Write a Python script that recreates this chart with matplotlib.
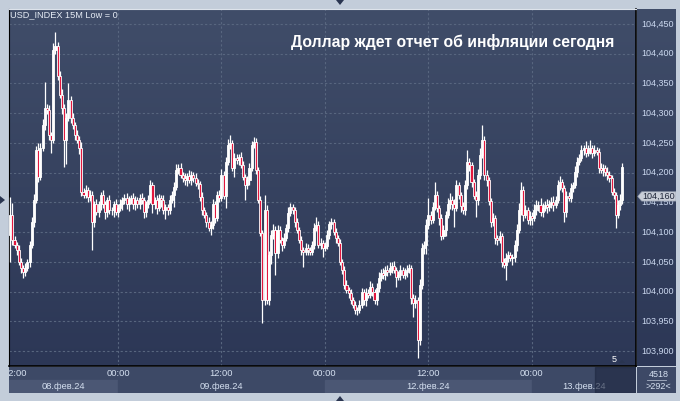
import numpy as np
import matplotlib.pyplot as plt
from matplotlib.colors import LinearSegmentedColormap
from matplotlib.patches import Polygon, Rectangle

plt.rcParams['font.family'] = ['Liberation Sans', 'DejaVu Sans']

# USD_INDEX 15M, closes in points above 104.000, first bar 08.02 11:30
close_pts = [129, 87, 79, 70, 50, 40, 33, 40, 50, 79,
             117, 154, 238, 193, 241, 280, 309, 305, 263, 255,
             406, 413, 363, 331, 309, 255, 292, 322, 292, 280,
             263, 255, 241, 168, 163, 171, 159, 163, 117, 147,
             134, 147, 163, 147, 134, 154, 137, 137, 147, 134,
             141, 147, 154, 158, 147, 154, 158, 147, 154, 147,
             158, 154, 134, 147, 154, 179, 147, 154, 141, 158,
             154, 137, 142, 137, 154, 163, 176, 205, 208, 196,
             191, 188, 194, 188, 196, 191, 183, 181, 159, 137,
             129, 117, 107, 112, 147, 124, 163, 158, 196, 161,
             218, 247, 249, 208, 225, 221, 226, 213, 193, 179,
             188, 208, 247, 252, 205, 154, 99, -14, 137, -14,
             62, 95, 104, 65, 104, 87, 79, 90, 107, 132,
             142, 137, 117, 104, 87, 70, 67, 74, 70, 67,
             79, 107, 112, 79, 82, 74, 77, 95, 114, 117,
             101, 90, 82, 50, 37, 11, 3, -2, -14, -22,
             -31, -31, -22, 0, -14, -2, -5, 8, 0, -14,
             6, 23, 32, 28, 37, 33, 40, 43, 37, 25,
             28, 37, 28, 33, 37, 40, -10, -19, -14, -81,
             11, 74, 79, 112, 129, 121, 142, 163, 141, 124,
             94, 104, 129, 147, 154, 147, 141, 179, 163, 144,
             137, 179, 218, 213, 184, 161, 154, 196, 230, 255,
             196, 188, 152, 117, 124, 90, 87, 94, 50, 45,
             57, 62, 57, 58, 79, 104, 137, 171, 129, 137,
             121, 127, 124, 137, 146, 146, 133, 141, 146, 142,
             148, 151, 146, 154, 179, 184, 174, 134, 161, 158,
             174, 179, 201, 218, 225, 238, 241, 233, 238, 241,
             233, 238, 235, 208, 205, 208, 201, 196, 191, 168,
             163, 129, 146, 154, 210]
first_open_pts = 96

upper_wick = [30, 20, 6, 5, 8, 6, 4, 8, 5, 6,
              8, 10, 6, 12, 8, 10, 43, 6, 8, 5,
              12, 23, 6, 8, 10, 6, 8, 29, 6, 8,
              5, 8, 6, 10, 6, 8, 5, 8, 6, 5,
              8, 6, 5, 8, 6, 5, 8, 6, 5, 8,
              6, 8, 5, 6, 8, 6, 5, 8, 6, 5,
              6, 8, 5, 6, 8, 9, 6, 5, 8, 6,
              5, 8, 6, 5, 8, 6, 8, 10, 6, 8,
              5, 8, 6, 10, 6, 5, 8, 6, 5, 8,
              6, 5, 8, 6, 8, 5, 6, 8, 10, 6,
              8, 10, 15, 6, 8, 6, 5, 8, 6, 5,
              6, 8, 6, 8, 6, 5, 6, 5, 26, 8,
              6, 8, 10, 6, 8, 6, 5, 8, 6, 10,
              7, 6, 5, 6, 5, 6, 5, 8, 6, 5,
              6, 8, 14, 6, 8, 5, 6, 8, 4, 6,
              5, 6, 5, 6, 5, 6, 8, 5, 6, 5,
              6, 5, 8, 6, 5, 8, 6, 10, 6, 5,
              8, 10, 6, 8, 6, 8, 10, 6, 8, 5,
              6, 8, 5, 6, 8, 6, 5, 6, 8, 5,
              10, 8, 6, 10, 29, 6, 8, 21, 6, 5,
              6, 8, 6, 10, 12, 6, 8, 9, 6, 5,
              6, 8, 20, 6, 5, 6, 8, 10, 12, 25,
              6, 8, 5, 6, 8, 5, 6, 8, 5, 6,
              8, 6, 5, 6, 8, 10, 12, 13, 6, 8,
              6, 8, 6, 10, 8, 6, 12, 8, 6, 10,
              6, 8, 10, 6, 8, 10, 6, 5, 8, 6,
              8, 6, 10, 8, 6, 8, 6, 12, 8, 14,
              6, 8, 5, 6, 8, 6, 5, 8, 6, 5,
              6, 5, 8, 10, 7]

lower_wick = [46, 8, 6, 8, 6, 8, 10, 6, 5, 8,
              6, 8, 5, 8, 6, 5, 8, 6, 8, 22,
              5, 6, 8, 6, 10, 45, 40, 6, 8, 6,
              8, 6, 10, 8, 6, 5, 8, 6, 47, 8,
              6, 8, 10, 6, 12, 8, 6, 8, 12, 6,
              8, 6, 10, 6, 8, 12, 6, 8, 10, 6,
              8, 6, 10, 8, 6, 5, 15, 8, 10, 6,
              12, 6, 15, 8, 6, 5, 20, 6, 8, 5,
              6, 8, 10, 6, 8, 6, 5, 8, 6, 8,
              6, 8, 5, 12, 6, 8, 6, 8, 5, 6,
              20, 6, 8, 5, 15, 6, 8, 6, 5, 25,
              6, 8, 5, 6, 8, 5, 6, 39, 8, 6,
              8, 15, 6, 37, 8, 6, 10, 6, 5, 6,
              5, 6, 8, 5, 6, 8, 26, 6, 8, 5,
              6, 8, 5, 6, 8, 16, 6, 5, 6, 8,
              6, 8, 5, 6, 8, 6, 5, 8, 6, 5,
              6, 8, 5, 6, 8, 10, 6, 5, 8, 6,
              8, 6, 5, 6, 8, 6, 5, 8, 6, 17,
              6, 8, 5, 6, 8, 6, 10, 23, 8, 30,
              8, 6, 10, 15, 6, 8, 6, 5, 8, 12,
              8, 6, 10, 6, 8, 10, 32, 6, 8, 10,
              6, 8, 6, 10, 8, 6, 28, 8, 6, 5,
              8, 10, 6, 8, 6, 10, 8, 6, 8, 6,
              25, 8, 6, 12, 8, 10, 6, 8, 10, 6,
              8, 9, 12, 6, 8, 10, 6, 8, 6, 10,
              6, 8, 10, 6, 5, 8, 6, 17, 8, 6,
              8, 6, 5, 8, 6, 5, 8, 6, 5, 6,
              8, 5, 6, 8, 6, 10, 6, 8, 6, 5,
              8, 22, 6, 8, 6]

price_ticks = [103.90, 103.95, 104.00, 104.05, 104.10, 104.15,
               104.20, 104.25, 104.30, 104.35, 104.40, 104.45]
time_ticks = [2, 50, 98, 146, 194, 242]
time_labels = ['12:00', '00:00', '12:00', '00:00', '12:00', '00:00']
day_edges = [-0.56, 50, 146, 242, 290.3]
day_labels = ['08.фев.24', '09.фев.24', '12.фев.24', '13.фев.24']
last_price = 104.160
title = 'Доллар ждет отчет об инфляции сегодня'

close = 104 + np.array(close_pts) / 1000
opn = np.concatenate([[104 + first_open_pts / 1000], close[:-1]])
high = np.maximum(opn, close) + np.array(upper_wick) / 1000
low = np.minimum(opn, close) - np.array(lower_wick) / 1000
idx = np.arange(len(close))

W, H = 680, 401
xlim = (day_edges[0], day_edges[-1])
ylim = (103.875, 104.475)
bg = LinearSegmentedColormap.from_list('bg', ['#404d69', '#2c3756'])
grad = np.linspace(0, 1, 256).reshape(-1, 1)

fig = plt.figure(figsize=(6.8, 4.01), dpi=100, facecolor='#c3cdda')

ax = fig.add_axes([9 / W, 35 / H, 627 / W, 357 / H])
ax.imshow(grad, cmap=bg, extent=[0, 1, 0, 1], transform=ax.transAxes,
          aspect='auto', zorder=0)
for v in price_ticks:
    ax.axhline(v, color='#58667f', lw=0.8, ls=(0, (2, 2)), zorder=1)
for t in time_ticks[1:]:
    ax.axvline(t, color='#58667f', lw=0.8, ls=(0, (2, 2)), zorder=1)

rising = close >= opn
ax.vlines(idx, low, high, color='white', lw=0.9, zorder=3)
ax.bar(idx, close - opn, bottom=opn, width=0.95,
       color=np.where(rising, 'white', '#e3173e'),
       edgecolor='white', linewidth=0.6, zorder=4)

ax.set_xlim(xlim)
ax.set_ylim(ylim)
ax.set_xticks([])
ax.set_yticks([])
ax.spines['left'].set_color('black')
ax.spines['bottom'].set_color('black')
ax.spines['bottom'].set_linewidth(1.2)
ax.spines['right'].set_color('black')
ax.spines['right'].set_linewidth(1.2)
ax.spines['top'].set_color('#dde3eb')

# price scale
ax_r = fig.add_axes([637 / W, 35 / H, 39 / W, 357 / H])
ax_r.imshow(grad, cmap=bg, extent=[0, 1, 0, 1], transform=ax_r.transAxes,
            aspect='auto', zorder=0)
ax_r.set_xlim(0, 1)
ax_r.set_ylim(ylim)
ax_r.axis('off')
tr = ax_r.get_yaxis_transform()
for v in price_ticks:
    ax_r.text(0.1, v, f'{v:.3f}'.replace('.', ','), transform=tr,
              fontsize=6.5, color='#cbd8ef', va='center')
tag = Polygon([(0.02, last_price), (0.12, last_price + 0.0078),
               (1.0, last_price + 0.0078), (1.0, last_price - 0.0078),
               (0.12, last_price - 0.0078)], closed=True, transform=tr,
              facecolor='#c9ced8', edgecolor='#9aa3b3', lw=0.5, zorder=5)
ax_r.add_patch(tag)
ax_r.text(0.14, last_price, f'{last_price:.3f}'.replace('.', ','), transform=tr,
          fontsize=6.5, color='#1c2438', va='center', zorder=6)

# time scale
ax_b = fig.add_axes([9 / W, 8 / H, 627 / W, 26 / H])
ax_b.set_xlim(xlim)
ax_b.set_ylim(0, 2)
ax_b.axis('off')
ax_b.add_patch(Rectangle((xlim[0], 1), xlim[1] - xlim[0], 1, color='#3d4966'))
band_colors = ['#4b5774', '#3d4966', '#4b5774', '#3d4966']
for k in range(len(day_labels)):
    x0, x1 = day_edges[k], day_edges[k + 1]
    ax_b.add_patch(Rectangle((x0, 0), x1 - x0, 1, color=band_colors[k]))
    ax_b.text((x0 + x1) / 2, 0.5, day_labels[k], ha='center', va='center',
              fontsize=6.7, color='#d5e0f0')
for t, lab in zip(time_ticks, time_labels):
    ax_b.text(t, 1.5, lab, ha='center', va='center', fontsize=6.7,
              color='#d5e0f0', clip_on=True)
ax_b.add_patch(Rectangle((271.2, 0), xlim[1] - 271.2, 2, color='#1e2740',
                         alpha=0.6, zorder=5))

ax_c = fig.add_axes([637 / W, 8 / H, 39 / W, 26 / H])
ax_c.set_xlim(0, 1)
ax_c.set_ylim(0, 2)
ax_c.axis('off')
ax_c.add_patch(Rectangle((0, 0), 1, 2, color='#3d4966'))
ax_c.text(0.55, 1.45, '4518', ha='center', va='center', fontsize=6.5,
          color='#d5e0f0')
ax_c.plot([0.25, 0.75], [1.0, 1.0], color='#aab4c6', lw=0.6)
ax_c.text(0.55, 0.5, '>292<', ha='center', va='center', fontsize=6.5,
          color='#d5e0f0')

fig.text(10 / W, 1 - 15 / H, 'USD_INDEX 15M Low = 0', fontsize=6.6,
         color='#e6ecf5', va='center')
fig.text(614 / W, 1 - 42 / H, title, ha='right', va='center', fontsize=11.3,
         fontweight='bold', color='white')
fig.text(614 / W, 1 - 359 / H, '5', ha='center', va='center', fontsize=6.5,
         color='white')

# small scroll markers
for pts in ([(336, 0), (344, 0), (340, 5)],
            [(336, 401), (344, 401), (340, 396)],
            [(0, 196), (0, 204), (5, 200)],
            [(619, 363), (625, 363), (622, 360)]):
    fig.patches.append(Polygon([(px / W, 1 - py / H) for px, py in pts],
                               closed=True, transform=fig.transFigure,
                               facecolor='#2a3550', edgecolor='none'))

fig.savefig('out.png', dpi=100, facecolor=fig.get_facecolor())
